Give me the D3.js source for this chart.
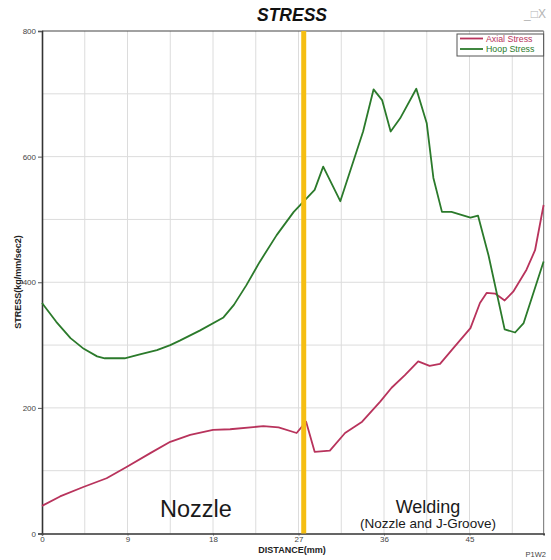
<!DOCTYPE html>
<html>
<head>
<meta charset="utf-8">
<script src="https://cdn.jsdelivr.net/npm/d3@7"></script>
<style>
  html, body { margin: 0; padding: 0; background: #fff; }
  svg { display: block; font-family: "Liberation Sans", Arial, sans-serif; }
</style>
</head>
<body>
<svg id="chart" width="551" height="560"></svg>
<script>
// Axial stress along the path (distance in mm, stress in kg/mm/sec2)
const axialDistance = [0, 1.9, 4.35, 6.8, 8.9, 11.4, 13.5, 15.6, 18.0, 19.8, 23.3, 24.9, 26.8, 27.8,
  28.7, 30.3, 31.9, 33.7, 35.6, 36.8, 38.2, 39.6, 40.8, 41.9, 43.3, 45.1, 46.1, 46.8, 47.7, 48.7,
  49.6, 51.0, 51.9, 52.8];
const axialStress = [44, 59, 74, 88, 106, 128, 146, 157, 165, 166, 171, 169, 160, 178,
  130, 132, 160, 178, 210, 232, 252, 274, 267, 270, 295, 327, 367, 383, 382, 371,
  385, 420, 451, 523];

// Hoop stress along the same path
const hoopDistance = [0, 1.5, 3.0, 4.4, 5.8, 6.6, 8.7, 10.3, 12.1, 13.5, 14.5, 16.6, 19.1, 20.2, 21.5,
  22.9, 24.7, 26.5, 27.5, 28.7, 29.6, 31.4, 33.8, 34.9, 35.8, 36.7, 37.7, 39.4, 40.5, 41.2,
  42.1, 43.1, 45.1, 45.9, 47.0, 48.7, 49.8, 50.7, 52.8];
const hoopStress = [367, 337, 311, 294, 282, 279, 279, 285, 292, 300, 307, 323, 344, 364, 395,
  432, 475, 512, 528, 547, 584, 529, 640, 707, 690, 640, 661, 708, 653, 566,
  512, 512, 503, 506, 443, 325, 320, 335, 433];

const xTicks = [0, 9, 18, 27, 36, 45];
const yTicks = [0, 200, 400, 600, 800];
const xGrid = [4.5, 9, 13.5, 18, 22.5, 27, 31.5, 36, 40.5, 45, 49.5];
const yGrid = [100, 200, 300, 400, 500, 600, 700];
const boundaryDistance = 27.55;   // nozzle / weld boundary
const seriesNames = ["Axial Stress", "Hoop Stress"];
const seriesColors = ["#b8335c", "#2b7a2b"];

const svg = d3.select("#chart");
const plotLeft = 42, plotRight = 543.6, plotTop = 31, plotBottom = 533.5;

const x = d3.scaleLinear().domain([0, 52.8]).range([plotLeft, plotRight]);
const y = d3.scaleLinear().domain([0, 800]).range([plotBottom, plotTop]);

// title and window icons
svg.append("text").attr("x", 292).attr("y", 21).attr("text-anchor", "middle")
  .attr("font-size", 17.5).attr("font-weight", "bold").attr("font-style", "italic")
  .attr("fill", "#111").text("STRESS");
svg.append("text").attr("x", 546).attr("y", 18).attr("text-anchor", "end")
  .attr("font-size", 12).attr("fill", "#b4b4b4").text("_\u25A1X");

// grid
const grid = svg.append("g").attr("stroke", "#dcdcdc").attr("stroke-width", 1);
grid.selectAll("line.v").data(xGrid).join("line").attr("class", "v")
  .attr("x1", d => x(d)).attr("x2", d => x(d)).attr("y1", plotTop).attr("y2", plotBottom);
grid.selectAll("line.h").data(yGrid).join("line").attr("class", "h")
  .attr("x1", plotLeft).attr("x2", plotRight).attr("y1", d => y(d)).attr("y2", d => y(d));

// frame
svg.append("line").attr("x1", plotLeft).attr("x2", plotRight).attr("y1", plotTop).attr("y2", plotTop)
  .attr("stroke", "#444").attr("stroke-width", 1.2);
svg.append("line").attr("x1", plotRight).attr("x2", plotRight).attr("y1", plotTop).attr("y2", plotBottom)
  .attr("stroke", "#888").attr("stroke-width", 1.2);

// axes
const yAxis = svg.append("g").attr("transform", `translate(${plotLeft},0)`)
  .call(d3.axisLeft(y).tickValues(yTicks).tickSize(4).tickPadding(2));
const xAxis = svg.append("g").attr("transform", `translate(0,${plotBottom})`)
  .call(d3.axisBottom(x).tickValues(xTicks).tickSize(2).tickPadding(1));
[yAxis, xAxis].forEach(g => {
  g.select(".domain").attr("stroke", "#333").attr("stroke-width", 1.6);
  g.selectAll(".tick line").attr("stroke", "#555");
  g.selectAll(".tick text").attr("font-size", 8).attr("fill", "#444")
    .attr("font-family", "'Liberation Sans', Arial, sans-serif");
});

// series lines
const line = d3.line().x(d => x(d[0])).y(d => y(d[1]));
const axialPts = d3.zip(axialDistance, axialStress);
const hoopPts = d3.zip(hoopDistance, hoopStress);
svg.append("path").datum(axialPts).attr("d", line).attr("fill", "none")
  .attr("stroke", seriesColors[0]).attr("stroke-width", 1.8).attr("stroke-linejoin", "round");
svg.append("path").datum(hoopPts).attr("d", line).attr("fill", "none")
  .attr("stroke", seriesColors[1]).attr("stroke-width", 1.8).attr("stroke-linejoin", "round");

// boundary marker
svg.append("line").attr("x1", x(boundaryDistance)).attr("x2", x(boundaryDistance))
  .attr("y1", plotTop).attr("y2", plotBottom).attr("stroke", "#f5be12").attr("stroke-width", 5);

// region labels
svg.append("text").attr("x", 196).attr("y", 517).attr("text-anchor", "middle")
  .attr("font-size", 23.5).attr("fill", "#1a1a1a").text("Nozzle");
svg.append("text").attr("x", 428).attr("y", 513).attr("text-anchor", "middle")
  .attr("font-size", 18).attr("fill", "#1a1a1a").text("Welding");
svg.append("text").attr("x", 428).attr("y", 528).attr("text-anchor", "middle")
  .attr("font-size", 13.5).attr("fill", "#1a1a1a").text("(Nozzle and J-Groove)");

// axis titles and footer
svg.append("text").attr("x", 292).attr("y", 553).attr("text-anchor", "middle")
  .attr("font-size", 9).attr("font-weight", "bold").attr("fill", "#222").text("DISTANCE(mm)");
svg.append("text").attr("transform", "translate(21,282) rotate(-90)").attr("text-anchor", "middle")
  .attr("font-size", 9).attr("font-weight", "bold").attr("fill", "#222").text("STRESS(kg/mm/sec2)");
svg.append("text").attr("x", 546).attr("y", 557).attr("text-anchor", "end")
  .attr("font-size", 7.5).attr("fill", "#444").text("P1W2");

// legend
const lg = svg.append("g");
lg.append("rect").attr("x", 457).attr("y", 34).attr("width", plotRight - 457).attr("height", 22)
  .attr("fill", "#fff").attr("stroke", "#555").attr("stroke-width", 1);
seriesNames.forEach((name, i) => {
  const ly = 38.5 + i * 10.5;
  lg.append("line").attr("x1", 460).attr("x2", 483).attr("y1", ly).attr("y2", ly)
    .attr("stroke", seriesColors[i]).attr("stroke-width", 1.8);
  lg.append("text").attr("x", 486).attr("y", ly + 3).attr("font-size", 8.8)
    .attr("fill", seriesColors[i]).text(name);
});
</script>
</body>
</html>
